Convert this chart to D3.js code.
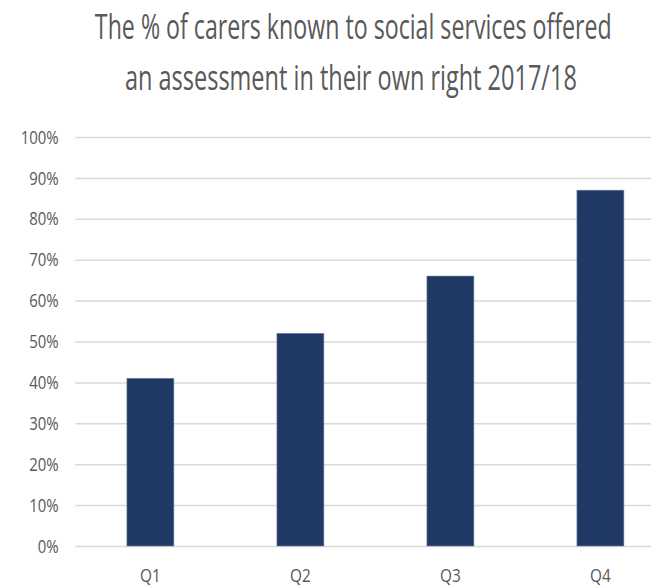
<!DOCTYPE html>
<html>
<head>
<meta charset="utf-8">
<script src="https://cdn.jsdelivr.net/npm/d3@7"></script>
<style>
  html, body { margin: 0; padding: 0; background: #ffffff; }
  svg { display: block; }
</style>
</head>
<body>
<svg id="chart" width="651" height="588"></svg>
<script>
const titleLines = ["The % of carers known to social services offered", "an assessment in their own right 2017/18"];
const categories = ["Q1", "Q2", "Q3", "Q4"];
const values = [0.41, 0.52, 0.66, 0.87];
const yTicks = [0, 0.1, 0.2, 0.3, 0.4, 0.5, 0.6, 0.7, 0.8, 0.9, 1.0];

const svg = d3.select("#chart");
const FONT = "'Open Sans', 'DejaVu Sans', sans-serif";
const TEXT = "#595959";

const plot = { left: 75.4, right: 675.4, top: 137, bottom: 546 };

const x = d3.scaleBand().domain(categories)
  .range([plot.left, plot.right])
  .paddingInner(0.687).paddingOuter(0.687 / 2);
const y = d3.scaleLinear().domain([0, 1]).range([plot.bottom, plot.top]);

// gridlines
const yAxis = d3.axisLeft(y).tickValues(yTicks).tickSize(-(plot.right - plot.left)).tickFormat("");
const gGrid = svg.append("g").attr("transform", `translate(${plot.left},0)`).call(yAxis);
gGrid.select(".domain").remove();
gGrid.selectAll(".tick line").attr("stroke", "#d9d9d9").attr("stroke-width", 1.5);

// bars
svg.append("g").selectAll("rect").data(categories).join("rect")
  .attr("x", d => x(d))
  .attr("width", x.bandwidth())
  .attr("y", (d, i) => y(values[i]))
  .attr("height", (d, i) => y(0) - y(values[i]))
  .attr("fill", "#203864")
  .attr("stroke", "#6f81a6")
  .attr("stroke-width", 0.6);

// horizontally compressed text helper
function squeeze(sel, factorFn) {
  sel.each(function (d, i) {
    const t = d3.select(this);
    const ax = +t.attr("data-x"), ay = +t.attr("data-y");
    const f = typeof factorFn === "function" ? factorFn.call(this, d, i) : factorFn;
    t.attr("x", 0).attr("y", 0).attr("transform", `translate(${ax},${ay}) scale(${f},1)`);
  });
}

// y tick labels
const tickFmt = d3.format(".0%");
const tl = svg.append("g").selectAll("text").data(yTicks).join("text")
  .attr("data-x", 58.7).attr("data-y", d => y(d) + 6.6)
  .attr("text-anchor", "end")
  .attr("font-family", FONT).attr("font-size", 18.5)
  .attr("fill", TEXT)
  .text(d => tickFmt(d));
let natural = 0;
tl.each(function (d) { if (d === 1) natural = this.getComputedTextLength(); });
const tickFactor = natural > 0 ? 38 / natural : 0.7;
squeeze(tl, tickFactor);

// x labels
const xl = svg.append("g").selectAll("text").data(categories).join("text")
  .attr("data-x", d => x(d) + x.bandwidth() / 2).attr("data-y", 582)
  .attr("text-anchor", "middle")
  .attr("font-family", FONT).attr("font-size", 19)
  .attr("fill", TEXT)
  .text(d => d);
squeeze(xl, tickFactor);

// title
const titleWidths = [517, 452];
const titleCenters = [353.3, 350.9];
const titleBaselines = [39, 90];
const tt = svg.append("g").selectAll("text").data(titleLines).join("text")
  .attr("data-x", (d, i) => titleCenters[i])
  .attr("data-y", (d, i) => titleBaselines[i])
  .attr("text-anchor", "middle")
  .attr("font-family", FONT).attr("font-size", 34)
  .attr("fill", TEXT)
  .text(d => d);
squeeze(tt, function (d, i) {
  const w = this.getComputedTextLength();
  return w > 0 ? titleWidths[i] / w : 0.7;
});
</script>
</body>
</html>
